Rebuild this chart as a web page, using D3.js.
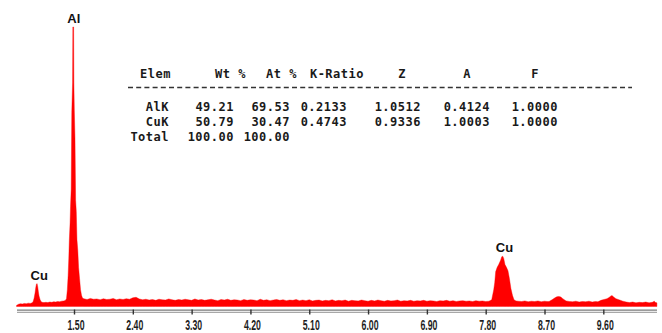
<!DOCTYPE html>
<html>
<head>
<meta charset="utf-8">
<script src="https://cdn.jsdelivr.net/npm/d3@7/dist/d3.min.js"></script>
<style>
  html, body { margin: 0; padding: 0; background: #fff; }
  svg { display: block; }
</style>
</head>
<body>
<svg id="chart" width="662" height="333"></svg>
<script>
// EDS spectrum: [energy keV, counts]
const spectrum = [
  [0.62,4],[0.65,8],[0.68,10],[0.71,9],[0.74,11],[0.77,10],[0.80,12],[0.83,11],
  // Cu L
  [0.86,13],[0.875,18],[0.89,30],[0.905,50],[0.915,68],[0.925,80],[0.935,82],[0.945,70],
  [0.955,52],[0.965,38],[0.98,25],[0.995,18],[1.01,15],
  [1.04,14],[1.07,15],[1.10,14],[1.13,16],[1.16,15],[1.19,17],[1.22,16],[1.25,18],
  [1.28,17],[1.31,19],[1.34,20],[1.355,21],
  // Al K
  [1.37,22],[1.385,28],[1.398,60],[1.41,110],[1.42,170],[1.428,235],[1.44,300],[1.447,359],
  [1.457,420],[1.466,694],[1.478,800],[1.482,1000],[1.494,1000],[1.498,800],[1.505,700],
  [1.515,600],[1.525,380],[1.535,340],[1.545,240],[1.558,200],[1.57,140],[1.585,100],
  [1.60,60],[1.615,40],[1.63,30],
  [1.65,28],[1.70,25],[1.75,29],[1.80,26],[1.85,27],[1.90,24],[1.95,28],[2.00,25],
  [2.05,26],[2.10,29],[2.15,24],[2.20,27],[2.25,25],[2.30,28],[2.35,26],[2.40,31],
  [2.45,33],[2.50,27],
  [2.55,24],[2.60,26],[2.65,23],[2.70,25],[2.75,22],[2.80,26],[2.85,24],[2.90,23],[2.95,27],[3.00,24],
  [3.05,22],[3.10,25],[3.15,23],[3.20,26],[3.25,24],[3.30,22],[3.35,27],[3.40,23],[3.45,25],[3.50,22],
  [3.55,24],[3.60,26],[3.65,23],[3.70,21],[3.75,25],[3.80,23],[3.85,26],[3.90,22],[3.95,24],[4.00,23],
  [4.05,21],[4.10,25],[4.15,22],[4.20,24],[4.25,23],[4.30,21],[4.35,26],[4.40,22],[4.45,24],[4.50,21],
  [4.55,23],[4.60,25],[4.65,22],[4.70,24],[4.75,21],[4.80,23],[4.85,22],[4.90,25],[4.95,21],[5.00,23],
  [5.05,21],[5.10,24],[5.15,20],[5.20,22],[5.25,23],[5.30,20],[5.35,22],[5.40,21],[5.45,24],[5.50,20],
  [5.55,22],[5.60,21],[5.65,23],[5.70,19],[5.75,22],[5.80,21],[5.85,20],[5.90,23],[5.95,21],[6.00,19],
  [6.05,22],[6.10,20],[6.15,23],[6.20,21],[6.25,19],[6.30,22],[6.35,20],[6.40,21],[6.45,23],[6.50,19],
  [6.55,21],[6.60,20],[6.65,22],[6.70,19],[6.75,21],[6.80,20],[6.85,22],[6.90,19],[6.95,21],[7.00,20],
  [7.05,18],[7.10,21],[7.15,20],[7.20,22],[7.25,19],[7.30,21],[7.35,18],[7.40,20],[7.45,21],[7.50,19],
  [7.55,20],[7.60,18],[7.65,21],[7.70,19],[7.75,20],[7.80,18],[7.85,19],
  // Cu K-alpha
  [7.892,24],[7.923,60],[7.938,85],[7.953,125],[7.976,140],[7.999,150],[8.027,165],[8.046,178],
  [8.061,180],[8.076,172],[8.095,150],[8.118,140],[8.141,128],[8.163,100],[8.186,64],[8.21,40],
  [8.233,24],[8.264,20],
  [8.30,19],[8.35,18],[8.40,20],[8.45,17],[8.50,19],[8.55,18],[8.60,20],[8.65,17],[8.70,19],[8.74,18],
  // Cu K-beta
  [8.77,18],[8.815,24],[8.86,31],[8.89,35],[8.92,36],[8.95,34],[8.98,28],[9.03,20],
  [9.08,18],[9.13,17],[9.18,19],[9.23,16],[9.28,18],[9.33,17],[9.38,19],[9.43,16],[9.48,18],
  [9.518,17],[9.564,22],[9.61,25],[9.656,28],[9.687,32],[9.717,38],[9.733,39],[9.763,33],
  [9.794,28],[9.839,24],[9.90,19],
  [9.95,16],[10.00,14],[10.05,16],[10.10,13],[10.15,15],[10.20,14],[10.25,16],[10.30,13],
  [10.35,15],[10.38,19],[10.40,14],[10.42,13]
];

const xTicks = [1.5, 2.4, 3.3, 4.2, 5.1, 6.0, 6.9, 7.8, 8.7, 9.6];

// Peak identification labels
const peakNames = ["Al", "Cu", "Cu"];
const peakEnergies = [1.49, 0.93, 8.05];

// Quantification table
const tableHeader = ["Elem", "Wt %", "At %", "K-Ratio", "Z", "A", "F"];
const elementNames = ["AlK", "CuK", "Total"];
const wtPercent = ["49.21", "50.79", "100.00"];
const atPercent = ["69.53", "30.47", "100.00"];
const kRatio = ["0.2133", "0.4743"];
const zFactor = ["1.0512", "0.9336"];
const aFactor = ["0.4124", "1.0003"];
const fFactor = ["1.0000", "1.0000"];

const svg = d3.select("#chart");

const x = d3.scaleLinear().domain([0.62, 10.42]).range([16.5, 656.9]);
const y = d3.scaleLinear().domain([0, 1000]).range([306.5, 27]);

// spectrum fill
const area = d3.area()
  .x(d => x(d[0]))
  .y0(y(0))
  .y1(d => y(d[1]))
  .curve(d3.curveLinear);

svg.append("path")
  .datum(spectrum)
  .attr("d", area)
  .attr("fill", "#ff0000")
  .attr("stroke", "#ff0000")
  .attr("stroke-width", 0.4);

// energy axis: double grey rule with tick marks
const axisY = 309.5;
svg.append("line")
  .attr("x1", 17).attr("x2", 657)
  .attr("y1", 310.2).attr("y2", 310.2)
  .attr("stroke", "#7a7a7a").attr("stroke-width", 1.2);
svg.append("line")
  .attr("x1", 17).attr("x2", 657)
  .attr("y1", 312.4).attr("y2", 312.4)
  .attr("stroke", "#a8a8a8").attr("stroke-width", 1.2);

const axis = d3.axisBottom(x)
  .tickValues(xTicks)
  .tickFormat(d3.format(".2f"))
  .tickSizeInner(5)
  .tickSizeOuter(0);

const gAxis = svg.append("g")
  .attr("transform", `translate(0,${axisY})`)
  .call(axis);
gAxis.select(".domain").remove();
gAxis.selectAll(".tick line")
  .attr("stroke", "#333").attr("stroke-width", 1.4);
gAxis.selectAll(".tick text")
  .attr("y", 20.8).attr("dy", 0).attr("dx", 1.5)
  .attr("fill", "#1e1e1e")
  .attr("font-family", "'Liberation Sans Narrow', 'Liberation Sans', Arial, sans-serif")
  .attr("font-weight", "bold")
  .attr("font-size", 15.5)
  .attr("textLength", 17)
  .attr("lengthAdjust", "spacingAndGlyphs");

// peak labels above the tallest count near each line energy
peakNames.forEach((name, i) => {
  const e = peakEnergies[i];
  const near = spectrum.filter(d => Math.abs(d[0] - e) < 0.08);
  const top = d3.max(near, d => d[1]);
  svg.append("text")
    .attr("x", x(e) + (i === 0 ? 0.5 : 2.5))
    .attr("y", y(top) - 4)
    .attr("text-anchor", "middle")
    .attr("font-family", "'Liberation Sans', Arial, sans-serif")
    .attr("font-weight", "bold")
    .attr("font-size", 13)
    .attr("fill", "#111")
    .text(name);
});

// quantification table
const mono = "'DejaVu Sans Mono', 'Liberation Mono', monospace";
const table = svg.append("g")
  .attr("font-family", mono)
  .attr("font-weight", "bold")
  .attr("font-size", 12)
  .attr("letter-spacing", 0.5)
  .attr("fill", "#1a1a1a");

const headerRight = [171, 246, 297, 364, 406, 471, 539];
tableHeader.forEach((h, i) => {
  table.append("text")
    .attr("x", headerRight[i]).attr("y", 78)
    .attr("text-anchor", "end")
    .text(h);
});

table.append("line")
  .attr("x1", 128).attr("x2", 632)
  .attr("y1", 87.5).attr("y2", 87.5)
  .attr("stroke", "#333").attr("stroke-width", 1.3)
  .attr("stroke-dasharray", "5,3.2");

const colRight = [169, 234, 290, 347, 421, 490, 558];
const columns = [elementNames, wtPercent, atPercent, kRatio, zFactor, aFactor, fFactor];
const rowY = [110.5, 125.5, 141];
columns.forEach((col, ci) => {
  col.forEach((v, ri) => {
    table.append("text")
      .attr("x", colRight[ci]).attr("y", rowY[ri])
      .attr("text-anchor", "end")
      .text(v);
  });
});
</script>
</body>
</html>
